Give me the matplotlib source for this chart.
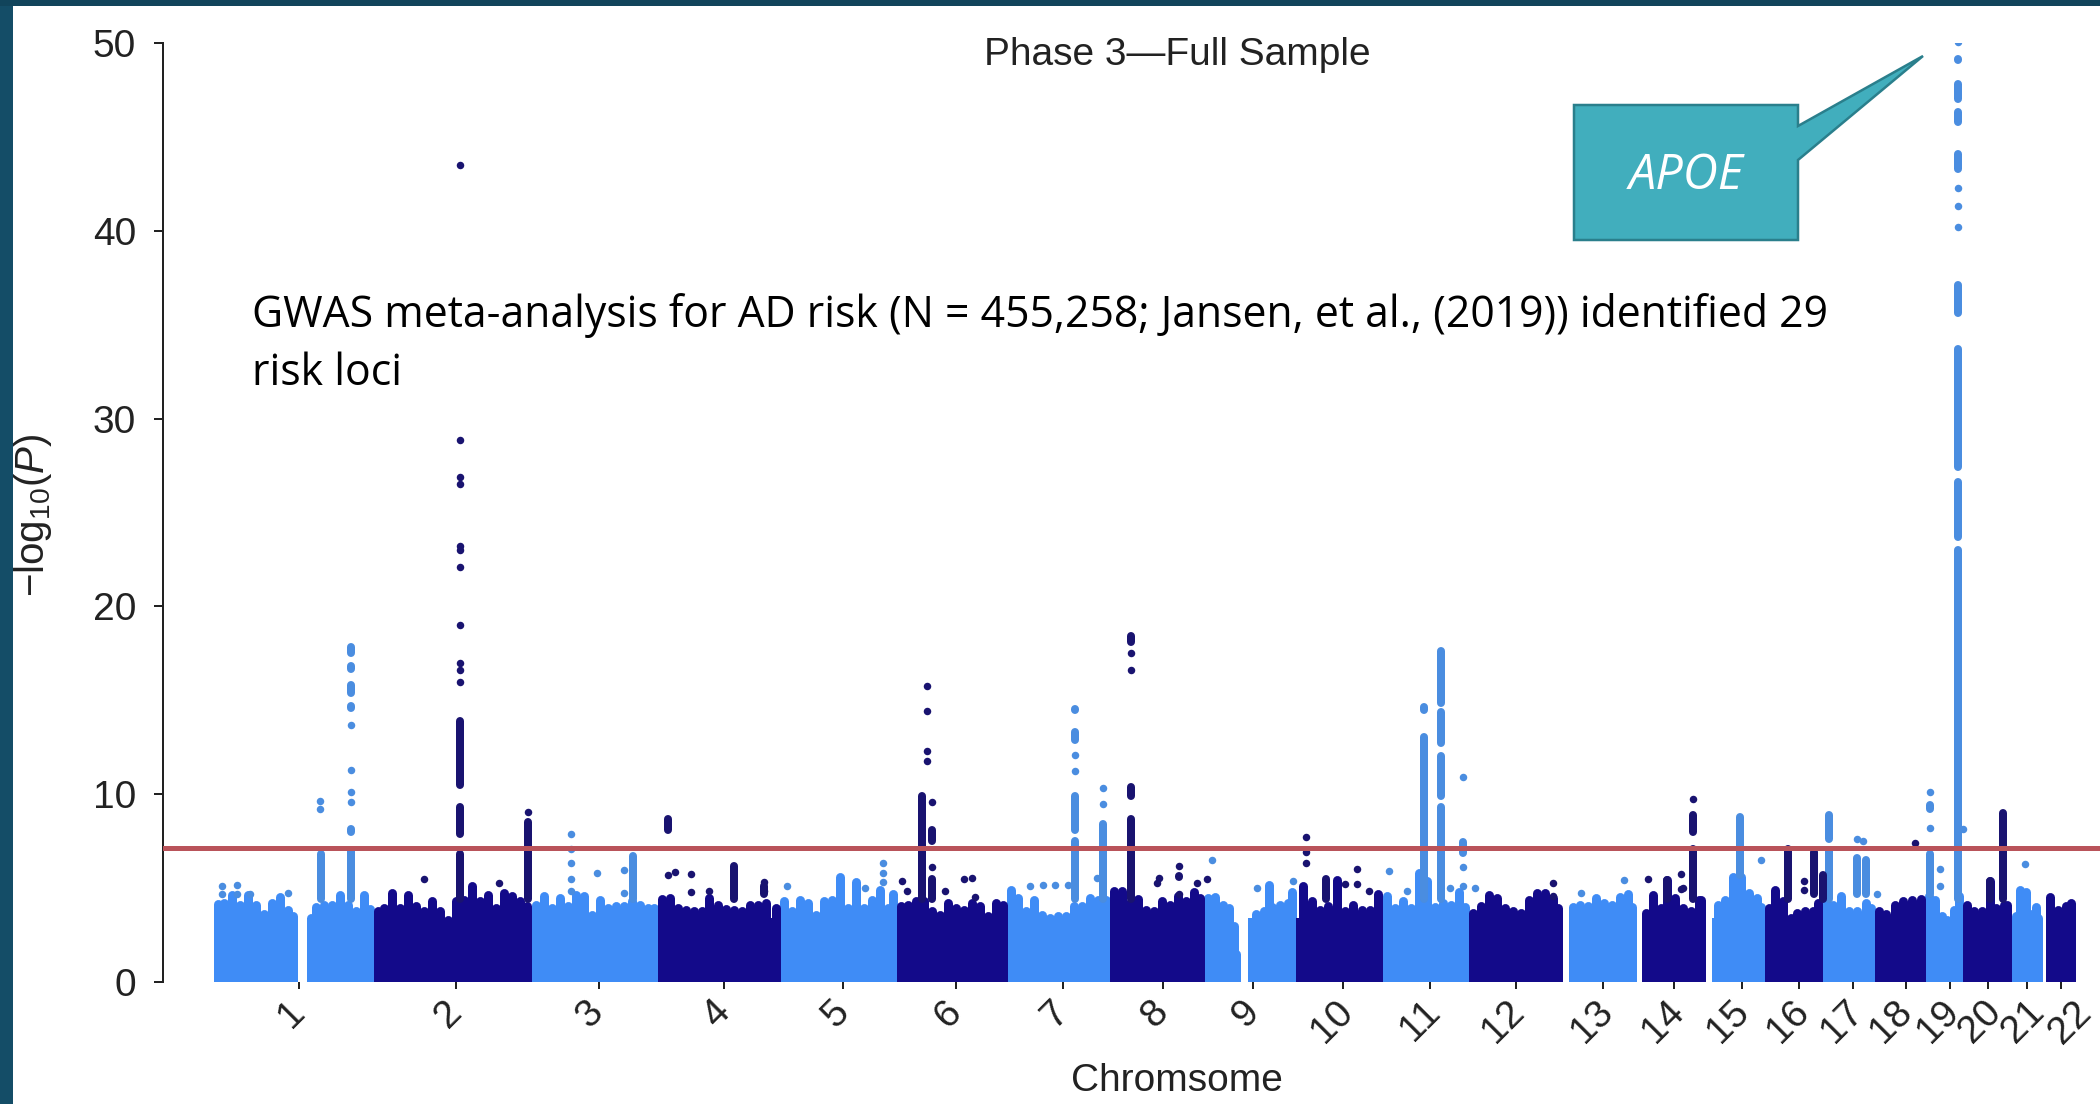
import numpy as np
import matplotlib
matplotlib.use('Agg')
import matplotlib.pyplot as plt
from matplotlib.patches import Polygon, Rectangle
from matplotlib.transforms import ScaledTranslation

plt.rcParams['font.family'] = ['Liberation Sans', 'DejaVu Sans']
plt.rcParams['mathtext.fontset'] = 'custom'
plt.rcParams['mathtext.rm'] = 'Liberation Sans'
plt.rcParams['mathtext.it'] = 'Liberation Sans:italic'

# Chromosome labels and where their ticks sit along the genome axis
chrom_labels = [str(i) for i in range(1, 23)]
chrom_ticks = [299, 456, 599, 724, 843, 956, 1063, 1163, 1253, 1343, 1430,
               1516, 1603, 1674, 1742, 1799, 1853, 1906, 1950, 1988, 2027, 2061]
# labels were nudged sideways in the source figure
label_nudge = [-7, -7, -9, -7, -7, -7, -7, -8, -7, -11, -10,
               -13, -11, -11, -14, -11, -11, -15, -12, -8, -4, 9]

threshold = 7.13

# Extent of the solid mass of points, by colour
light_left = [214, 307, 531, 780, 1007, 1204, 1248, 1382, 1569, 1712, 1822, 1925, 2012]
light_right = [297, 374, 658, 897, 1110, 1232, 1296, 1469, 1636, 1765, 1875, 1963, 2042]
dark_left = [374, 658, 897, 1110, 1296, 1469, 1642, 1765, 1875, 1963, 2046]
dark_right = [531, 780, 1007, 1204, 1382, 1562, 1705, 1822, 1925, 2011, 2075]

# Upper edge of the mass, light chromosomes
light_sky_pos = [218, 224, 232, 240, 248, 256, 264, 272, 280, 288, 293,
                 311, 316, 324, 332, 340, 348, 356, 364, 370,
                 536, 544, 552, 560, 568, 576, 584, 592, 600, 608, 616, 624, 632, 640, 648, 654,
                 784, 792, 800, 808, 816, 824, 832, 840, 848, 856, 864, 872, 880, 888, 893,
                 1011, 1018, 1026, 1034, 1042, 1050, 1058, 1066, 1074, 1082, 1090, 1098, 1106,
                 1208, 1215, 1223, 1229, 1234, 1236,
                 1252, 1256, 1264, 1269, 1272, 1280, 1288, 1292,
                 1387, 1395, 1403, 1411, 1419, 1427, 1435, 1443, 1451, 1459, 1465,
                 1573, 1580, 1588, 1596, 1604, 1612, 1620, 1628, 1632,
                 1716, 1718, 1725, 1733, 1741, 1749, 1757, 1761,
                 1826, 1833, 1841, 1849, 1857, 1866, 1871,
                 1929, 1935, 1942, 1947, 1954, 1959,
                 2016, 2020, 2026, 2032, 2036, 2038]
light_sky_top = [4.37, 4.4, 4.85, 4.3, 4.85, 4.3, 3.8, 4.4, 4.7, 4.05, 3.7,
                 3.6, 4.2, 4.3, 4.3, 4.85, 4.3, 4.0, 4.85, 4.1,
                 4.3, 4.76, 4.14, 4.67, 4.23, 4.85, 4.76, 3.78, 4.58, 4.14, 4.23, 4.23, 4.49, 4.32, 4.14, 4.14,
                 4.49, 3.96, 4.58, 4.4, 3.78, 4.49, 4.58, 5.8, 4.14, 5.5, 4.14, 4.58, 5.1, 4.14, 4.9,
                 5.1, 4.67, 3.96, 4.58, 3.78, 3.6, 3.7, 3.7, 4.23, 4.23, 4.67, 4.58, 4.58,
                 4.67, 4.7, 4.32, 4.14, 3.2, 1.7,
                 3.2, 3.8, 4.0, 5.38, 4.2, 4.3, 4.4, 5.0,
                 4.76, 4.14, 4.49, 4.14, 6.0, 5.6, 4.2, 4.4, 4.3, 5.0, 4.2,
                 4.2, 4.3, 4.23, 4.67, 4.4, 4.32, 4.7, 4.9, 4.2,
                 3.2, 4.3, 4.58, 5.8, 5.8, 4.94, 4.67, 4.2,
                 5.5, 4.3, 4.76, 3.96, 4.0, 4.4, 4.14,
                 4.76, 4.58, 3.7, 3.5, 4.05, 4.8,
                 3.7, 5.1, 5.0, 3.8, 4.2, 3.6]

# Upper edge of the mass, dark chromosomes
dark_sky_pos = [378, 384, 392, 400, 408, 416, 424, 432, 440, 448, 456, 464, 472, 480, 488, 496, 504, 512, 520, 527,
                662, 670, 678, 686, 694, 702, 709, 718, 726, 734, 742, 750, 758, 766, 776,
                901, 908, 916, 924, 932, 940, 948, 956, 964, 972, 980, 988, 996, 1003,
                1114, 1122, 1130, 1138, 1146, 1154, 1162, 1170, 1178, 1186, 1194, 1200,
                1303, 1312, 1320, 1328, 1337, 1345, 1353, 1362, 1370, 1378,
                1473, 1481, 1489, 1497, 1505, 1513, 1521, 1529, 1537, 1545, 1553, 1558,
                1646, 1653, 1661, 1667, 1675, 1683, 1691, 1699, 1701,
                1769, 1775, 1783, 1791, 1797, 1805, 1813, 1818,
                1879, 1886, 1895, 1903, 1912, 1920, 1921,
                1967, 1974, 1982, 1990, 1996, 2004, 2007,
                2050, 2058, 2066, 2071]
dark_sky_top = [3.96, 4.14, 4.94, 4.14, 4.85, 4.23, 3.96, 4.49, 3.96, 3.52, 4.49, 4.58, 5.29, 4.49, 4.85, 4.14, 4.94, 4.76, 4.49, 4.23,
                4.6, 4.67, 4.14, 4.05, 3.96, 3.96, 4.67, 4.32, 4.09, 4.05, 3.96, 4.32, 4.32, 4.4, 4.14,
                4.23, 4.32, 4.5, 4.5, 4.0, 3.78, 4.4, 4.14, 4.05, 4.4, 4.23, 3.7, 4.4, 4.3,
                5.03, 5.03, 4.4, 4.6, 4.05, 3.96, 4.49, 4.3, 4.76, 4.49, 5.0, 4.67,
                5.3, 4.49, 4.05, 4.23, 5.65, 3.96, 4.32, 4.05, 4.05, 4.9,
                3.87, 4.23, 4.85, 4.67, 4.14, 3.96, 3.87, 4.58, 4.94, 4.94, 4.67, 4.14,
                3.9, 4.85, 4.14, 5.65, 4.67, 4.14, 3.96, 4.58, 4.58,
                4.14, 5.1, 4.5, 3.6, 3.9, 3.96, 4.0, 4.4,
                3.96, 3.8, 4.32, 4.5, 4.58, 4.05, 4.6,
                4.3, 4.0, 3.96, 5.56, 4.14, 4.3, 4.3,
                4.7, 4.05, 4.23, 4.4]

# Unbroken runs of significant points, light chromosomes
light_run_pos = [321, 351, 351, 351, 351, 351, 351, 633,
                 1075, 1075, 1075, 1075, 1103, 1424, 1424, 1441, 1441, 1441, 1441,
                 1463, 1740, 1829, 1829, 1857, 1866, 1930, 1930,
                 1958, 1958, 1958, 1958, 1958, 1958, 1958, 1958, 1958]
light_run_lo = [4.2, 4.2, 7.8, 14.4, 15.2, 16.45, 17.3, 4.2,
                4.2, 7.9, 12.7, 14.3, 4.2, 4.2, 14.3, 4.2, 9.7, 12.5, 14.65,
                6.66, 5.5, 4.2, 7.4, 4.5, 4.5, 4.5, 9.0,
                4.2, 23.5, 27.2, 35.4, 43.1, 45.6, 46.8, 48.3, 48.9]
light_run_hi = [7.0, 7.2, 8.35, 14.9, 16.0, 17.0, 18.05, 6.9,
                7.7, 10.1, 13.5, 14.7, 8.6, 13.25, 14.85, 9.5, 12.25, 14.6, 17.8,
                7.67, 9.0, 7.2, 9.1, 6.8, 6.7, 7.0, 9.6,
                23.2, 26.8, 33.9, 37.3, 44.3, 46.5, 48.0, 48.7, 49.3]

# Unbroken runs of significant points, dark chromosomes
dark_run_pos = [460, 460, 460, 528, 668, 734, 764, 922, 932, 932, 1131, 1131, 1131,
                1179, 1326, 1693, 1693, 1667, 1788, 1814, 1823, 2003, 1990]
dark_run_lo = [4.2, 7.7, 10.3, 4.2, 7.9, 4.2, 4.5, 4.2, 4.2, 7.3, 4.2, 9.7, 17.9,
               5.4, 4.2, 4.2, 7.8, 4.2, 4.2, 4.5, 4.2, 4.2, 4.2]
dark_run_hi = [7.0, 9.5, 14.1, 8.7, 8.9, 6.4, 5.3, 10.1, 5.7, 8.3, 8.9, 10.6, 18.6,
               5.7, 5.7, 7.3, 9.1, 5.65, 7.3, 7.1, 5.9, 9.2, 5.56]

# Single points, light chromosomes
light_dot_pos = [222, 237, 222, 237, 250, 288, 320, 320,
                 351, 351, 351, 351,
                 571, 571, 571, 571, 571, 597, 624, 624,
                 787, 865, 883, 883, 883,
                 1030, 1043, 1055, 1068, 1075, 1075, 1103, 1097, 1103,
                 1212, 1257, 1293,
                 1389, 1407, 1450, 1463, 1463, 1463, 1475,
                 1581, 1624, 1761, 1857, 1863, 1877, 1940, 1940, 1930, 1930,
                 1963, 1958, 1958, 1958, 1958, 2025]
light_dot_val = [5.1, 5.15, 4.7, 4.7, 4.7, 4.75, 9.63, 9.2,
                 13.7, 11.3, 10.1, 9.6,
                 7.87, 7.07, 6.32, 5.5, 4.85, 5.79, 5.97, 4.76,
                 5.1, 5.0, 6.36, 5.8, 5.3,
                 5.1, 5.15, 5.15, 5.15, 12.1, 11.25, 10.35, 5.56, 9.47,
                 6.5, 5.03, 5.38,
                 5.9, 4.85, 5.03, 10.9, 6.1, 5.1, 5.0,
                 4.76, 5.43, 6.48, 7.64, 7.5, 4.67, 6.0, 5.1, 10.1, 8.2,
                 8.13, 50.05, 42.3, 41.3, 40.2, 6.3]

# Single points, dark chromosomes
dark_dot_pos = [424, 499, 460, 460, 460, 460, 460, 460, 460, 460, 460, 460, 460, 528,
                668, 675, 691, 691, 709, 764, 764, 902, 907, 927, 927, 927, 927, 932, 932, 945, 964, 972, 975,
                1131, 1131, 1157, 1159, 1179, 1179, 1197, 1207, 1306, 1306, 1306, 1345, 1357, 1357, 1369,
                1553, 1553, 1648, 1681, 1681, 1683, 1693, 1804, 1804, 1915]
dark_dot_val = [5.47, 5.29, 43.5, 28.86, 26.9, 26.5, 23.2, 23.0, 22.1, 19.0, 17.0, 16.6, 16.0, 9.06,
                5.7, 5.85, 5.77, 4.81, 4.85, 5.33, 4.85, 5.38, 4.85, 15.76, 14.43, 12.3, 11.77, 9.6, 6.1, 4.85, 5.5, 5.55, 4.5,
                17.5, 16.6, 5.29, 5.56, 6.2, 4.67, 5.29, 5.47, 7.7, 6.9, 6.36, 5.2, 6.0, 5.2, 4.85,
                5.26, 4.58, 5.47, 5.74, 4.94, 5.03, 9.77, 5.4, 4.9, 7.42]

light = '#3f8cf6'
dark = '#130a8a'
light_pt = '#4a8de0'
dark_pt = '#191370'
ink = '#222222'

fig = plt.figure(figsize=(21, 11.04), dpi=100)
ax = fig.add_axes([163 / 2100, (1104 - 982) / 1104, 1937 / 2100, 939 / 1104])
px = 72 / 100  # points per output pixel


def draw_group(left, right, sky_pos, sky_top, run_pos, run_lo, run_hi, dot_pos, dot_val, color, point_color):
    # solid body, rounded skyline, then the runs and dots above it
    ax.bar(left, 3.4, width=np.array(right) - np.array(left), align='edge', color=color, lw=0, zorder=2)
    ax.vlines(sky_pos, 0, np.array(sky_top) - 0.2, color=color, lw=9 * px, capstyle='round', zorder=2)
    # round caps add about 0.2 at each end, short runs still need some length or they vanish
    bottoms = np.array(run_lo) + 0.2
    tops = np.maximum(np.array(run_hi) - 0.2, bottoms + 0.03)
    ax.vlines(run_pos, bottoms, tops, color=point_color, lw=8 * px, capstyle='round', zorder=3)
    ax.scatter(dot_pos, dot_val, s=(7.5 * px) ** 2, color=point_color, lw=0, zorder=3)


draw_group(light_left, light_right, light_sky_pos, light_sky_top, light_run_pos, light_run_lo, light_run_hi,
           light_dot_pos, light_dot_val, light, light_pt)
draw_group(dark_left, dark_right, dark_sky_pos, dark_sky_top, dark_run_pos, dark_run_lo, dark_run_hi,
           dark_dot_pos, dark_dot_val, dark, dark_pt)

ax.axhline(threshold, color='#b9535a', lw=5 * px, zorder=4)

ax.set_xlim(163, 2100)
ax.set_ylim(0, 50)
ax.set_yticks([0, 10, 20, 30, 40, 50])
ax.set_xticks(chrom_ticks)
ax.set_xticklabels(chrom_labels, rotation=45, ha='center', va='top')
ax.tick_params(axis='y', length=9 * px, width=2 * px, color=ink, labelcolor=ink, labelsize=28, pad=18 * px)
ax.tick_params(axis='x', length=7 * px, width=2 * px, color=ink, labelcolor=ink, labelsize=28, pad=5 * px)
for lab, nudge in zip(ax.get_xticklabels(), label_nudge):
    lab.set_transform(lab.get_transform() + ScaledTranslation(nudge / 100, 0, fig.dpi_scale_trans))
for side in ['top', 'right', 'bottom']:
    ax.spines[side].set_visible(False)
ax.spines['left'].set_linewidth(2 * px)
ax.spines['left'].set_color(ink)


def fx(x):
    return x / 2100


def fy(y):
    return 1 - y / 1104


fig.text(fx(1177), fy(55), 'Phase 3\u2014Full Sample', ha='center', va='center', fontsize=28, color=ink)
fig.text(fx(1177), fy(1081), 'Chromsome', ha='center', va='center', fontsize=28, color=ink)
fig.text(fx(33), fy(515), r'$\mathrm{-log}_{10}(\mathit{P})$', rotation=90, ha='center', va='center',
         fontsize=29, color=ink)

fig.text(fx(252), fy(315), 'GWAS meta-analysis for AD risk (N = 455,258; Jansen, et al., (2019)) identified 29',
         family='Open Sans', ha='left', va='center', fontsize=30.8, color='black')
fig.text(fx(252), fy(374), 'risk loci', family='Open Sans', ha='left', va='center', fontsize=30.8, color='black')

# APOE callout
callout = [(1574, 105), (1798, 105), (1798, 126), (1923, 56), (1798, 160), (1798, 240), (1574, 240)]
fig.add_artist(Polygon([(fx(x), fy(y)) for x, y in callout], closed=True, transform=fig.transFigure,
                       facecolor='#41aebd', edgecolor='#2a7f8c', lw=2.5 * px, zorder=6))
fig.text(fx(1686), fy(176), 'APOE', family='Open Sans', style='italic', color='white', ha='center', va='center',
         fontsize=35, zorder=7)

# slide edge
fig.add_artist(Rectangle((0, 0), fx(13), 1, transform=fig.transFigure, color='#144d67', lw=0))
fig.add_artist(Rectangle((0, fy(6)), 1, fy(0) - fy(6), transform=fig.transFigure, color='#11445b', lw=0))

fig.savefig('out.png', dpi=100)
